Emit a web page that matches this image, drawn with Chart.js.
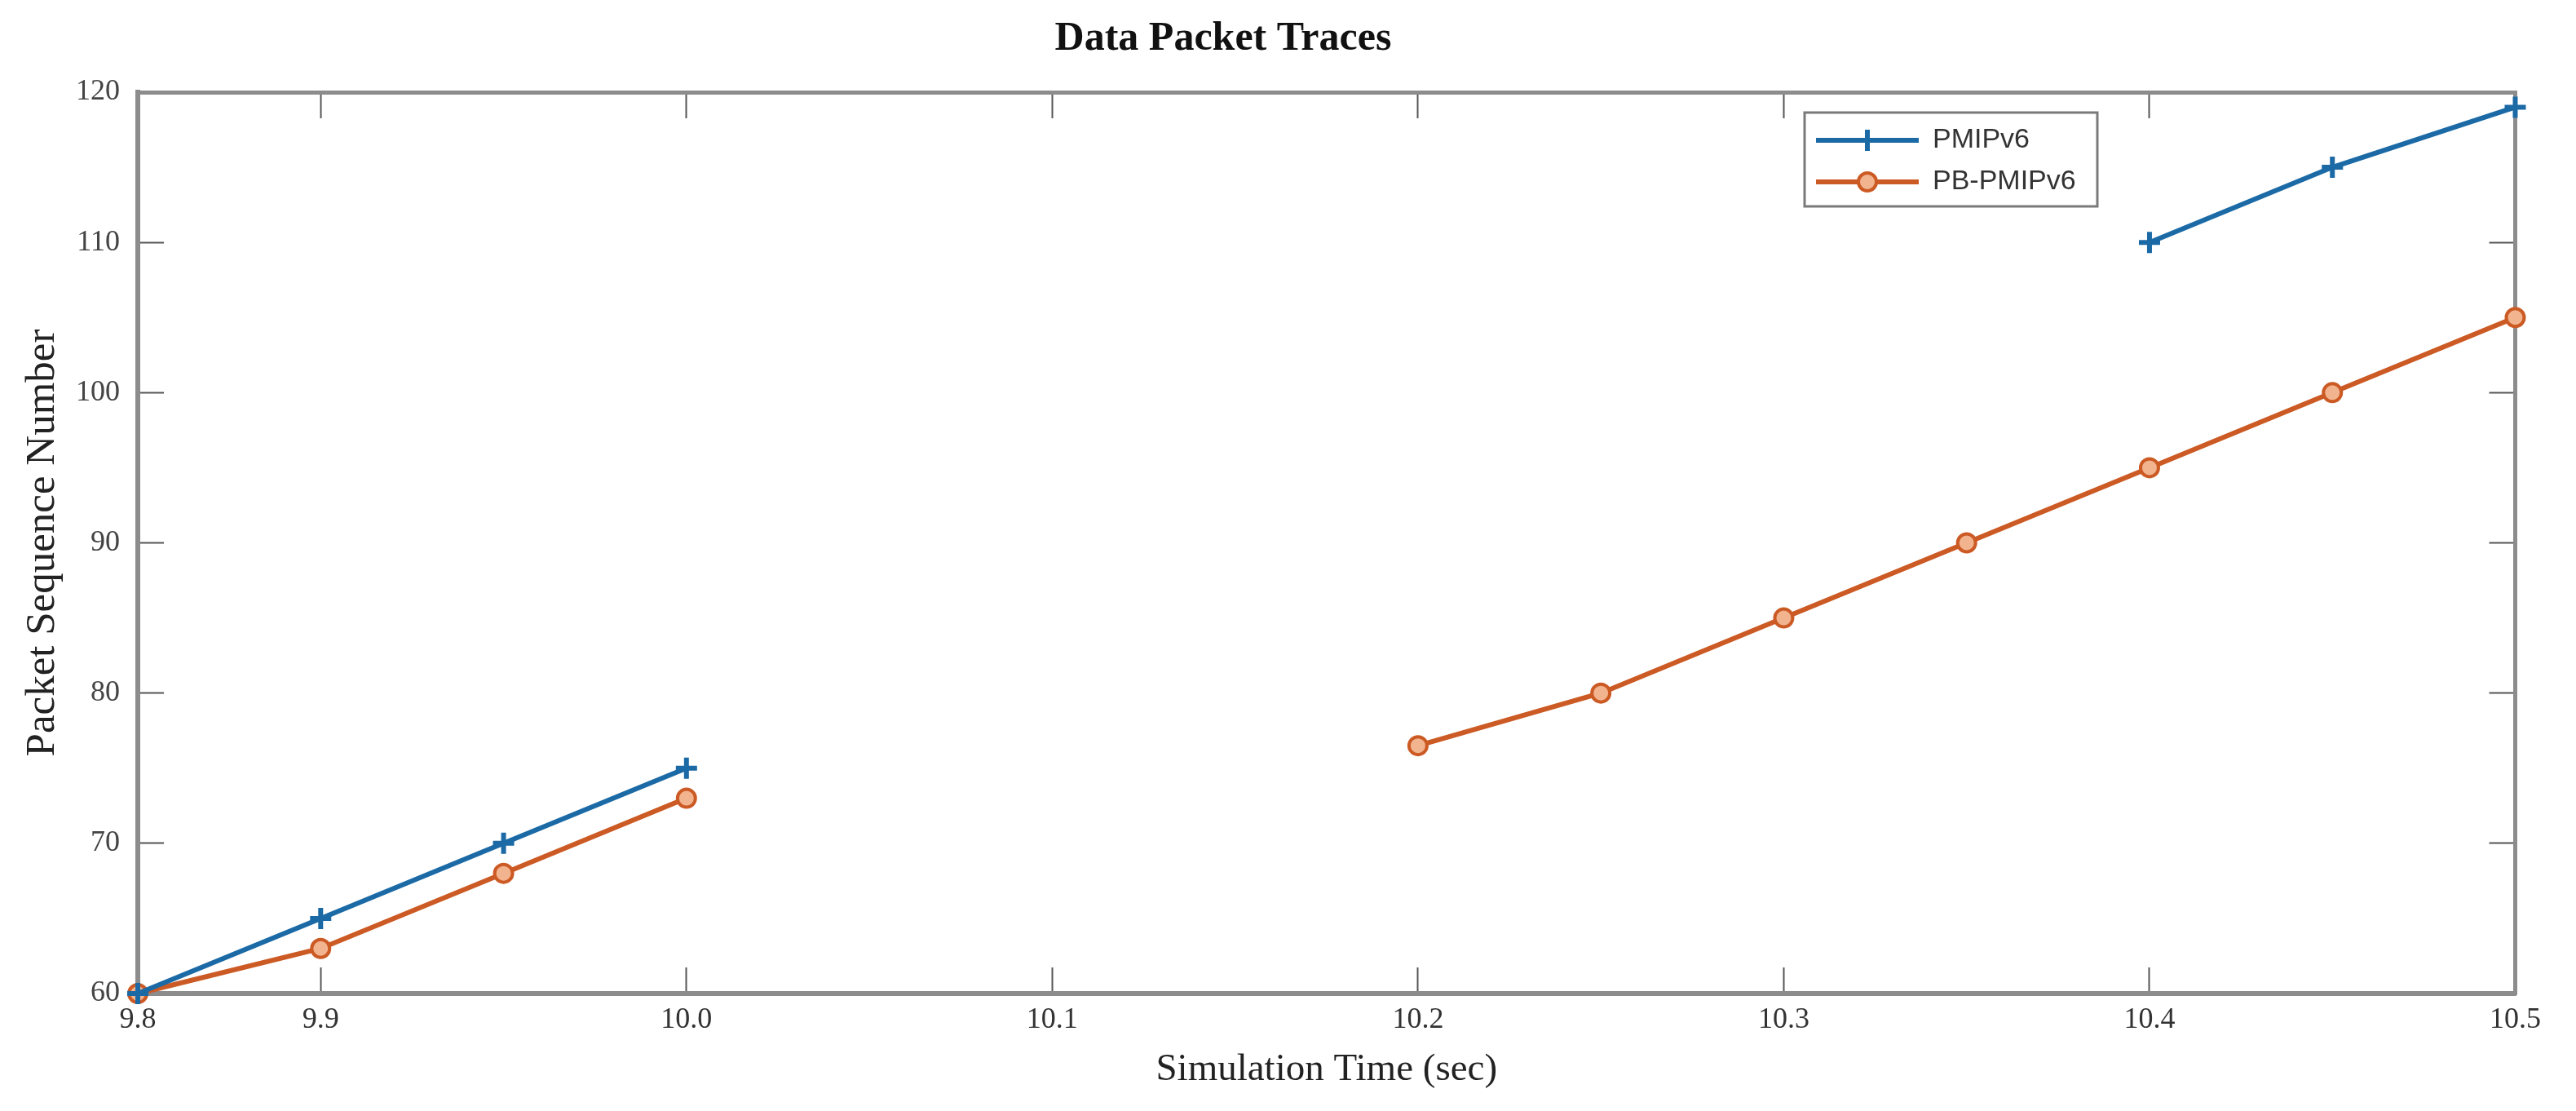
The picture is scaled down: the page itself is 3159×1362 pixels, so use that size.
<!DOCTYPE html>
<html>
<head>
<meta charset="utf-8">
<script src="https://cdn.jsdelivr.net/npm/chart.js@4.4.1/dist/chart.umd.min.js"></script>
<style>
  html, body { margin: 0; padding: 0; background: #ffffff; }
  #wrap { width: 3159px; height: 1362px; position: relative; }
</style>
</head>
<body>
<div id="wrap"><canvas id="c"></canvas></div>
<script>
// ---------------- data ----------------
const seriesNames = ['PMIPv6', 'PB-PMIPv6'];
const pmipTime = [9.85, 9.9, 9.95, 10.0, 10.2, 10.4, 10.45, 10.5];
const pmipSeq  = [60, 65, 70, 75, null, 110, 115, 119];
const pbTime   = [9.85, 9.9, 9.95, 10.0, 10.1, 10.2, 10.25, 10.3, 10.35, 10.4, 10.45, 10.5];
const pbSeq    = [60, 63, 68, 73, null, 76.5, 80, 85, 90, 95, 100, 105];
const xTickValues = [9.85, 9.9, 10.0, 10.1, 10.2, 10.3, 10.4, 10.5];
const xTickLabels = ['9.8', '9.9', '10.0', '10.1', '10.2', '10.3', '10.4', '10.5'];
const yTickValues = [60, 70, 80, 90, 100, 110, 120];
const titleText = 'Data Packet Traces';
const xTitleText = 'Simulation Time (sec)';
const yTitleText = 'Packet Sequence Number';

// ---------------- styles ----------------
const BLUE = '#1b6aa6';
const ORANGE = '#cc5a24';
const ORANGE_FILL = '#f2b48f';
const AXIS_GRAY = '#8c8c8c';
const TICK_GRAY = '#555555';
const SERIF = '"Liberation Serif", "Times New Roman", serif';
const SANS = '"Liberation Sans", Arial, sans-serif';

const LEGEND_POS = { left: 2210, top: 138, width: 362, height: 400 };
const LEGEND_FRAME = { x: 2213, y: 138, w: 359, h: 115 };
const TITLE_SPAN = { left: 0, right: 3000 };

function setXTicks(scale) { scale.ticks = xTickValues.map(v => ({ value: v })); }
function setYTicks(scale) { scale.ticks = yTickValues.map(v => ({ value: v })); }

const tickGrid = {
  display: true, drawOnChartArea: false, drawTicks: true,
  tickLength: -32, tickWidth: 2, tickColor: TICK_GRAY, color: TICK_GRAY
};

// legend icons: line with marker in the middle
function makeIcon(color, kind) {
  const cv = document.createElement('canvas');
  cv.width = 126; cv.height = 34;
  const g = cv.getContext('2d');
  g.strokeStyle = color; g.lineWidth = 6; g.lineCap = 'butt';
  g.beginPath(); g.moveTo(0, 17); g.lineTo(126, 17); g.stroke();
  if (kind === 'cross') {
    g.lineWidth = 6;
    g.beginPath(); g.moveTo(63, 4); g.lineTo(63, 30); g.moveTo(50, 17); g.lineTo(76, 17); g.stroke();
  } else {
    g.lineWidth = 4; g.fillStyle = ORANGE_FILL;
    g.beginPath(); g.arc(63, 17, 11, 0, Math.PI * 2); g.fill(); g.stroke();
  }
  return cv;
}
const legendIcons = [makeIcon(BLUE, 'cross'), makeIcon(ORANGE, 'circle')];

const legendPlacer = {
  id: 'legendPlacer',
  afterLayout(chart) {
    const lg = chart.legend;
    if (lg) {
      lg.left = LEGEND_POS.left; lg.top = LEGEND_POS.top;
      lg.width = LEGEND_POS.width; lg.height = LEGEND_POS.height;
      lg.right = lg.left + lg.width; lg.bottom = lg.top + lg.height;
    }
    const tb = chart.titleBlock;
    if (tb) {
      tb.left = TITLE_SPAN.left; tb.right = TITLE_SPAN.right;
      tb.width = tb.right - tb.left;
    }
  },
  afterDraw(chart) {
    const ctx = chart.ctx;
    ctx.save();
    ctx.strokeStyle = '#7a7a7a';
    ctx.lineWidth = 3;
    ctx.strokeRect(LEGEND_FRAME.x, LEGEND_FRAME.y, LEGEND_FRAME.w, LEGEND_FRAME.h);
    ctx.restore();
  }
};

const chart = new Chart(document.getElementById('c'), {
  type: 'line',
  data: {
    datasets: [
      {
        label: seriesNames[0],
        data: pmipTime.map((t, i) => ({ x: t, y: pmipSeq[i] })),
        borderColor: BLUE, backgroundColor: BLUE,
        borderWidth: 6, tension: 0, spanGaps: false, clip: false,
        pointStyle: 'cross', pointRadius: 13, pointBorderWidth: 6,
        pointBorderColor: BLUE, pointBackgroundColor: BLUE
      },
      {
        label: seriesNames[1],
        data: pbTime.map((t, i) => ({ x: t, y: pbSeq[i] })),
        borderColor: ORANGE, backgroundColor: ORANGE_FILL,
        borderWidth: 6, tension: 0, spanGaps: false, clip: false,
        pointStyle: 'circle', pointRadius: 11, pointBorderWidth: 4,
        pointBorderColor: ORANGE, pointBackgroundColor: ORANGE_FILL
      }
    ]
  },
  options: {
    responsive: true,
    maintainAspectRatio: false,
    animation: false,
    layout: { padding: 0 },
    plugins: {
      title: {
        display: true, text: titleText, color: '#111111',
        font: { family: SERIF, size: 50, weight: 'bold' },
        padding: { top: 18, bottom: 8 }
      },
      legend: {
        display: true, position: 'chartArea', align: 'start',
        labels: {
          usePointStyle: true, pointStyleWidth: 126, padding: 17,
          color: '#333333', font: { family: SANS, size: 34 },
          generateLabels(chart) {
            const items = Chart.defaults.plugins.legend.labels.generateLabels(chart);
            items.forEach((it, i) => { it.pointStyle = legendIcons[i]; });
            return items;
          }
        }
      },
      tooltip: { enabled: false }
    },
    scales: {
      x: {
        type: 'linear', position: 'bottom', min: 9.85, max: 10.5,
        afterBuildTicks: setXTicks,
        afterFit(s) { s.height = 144; },
        ticks: {
          autoSkip: false, maxRotation: 0, padding: 43, color: '#333333',
          font: { family: SERIF, size: 36 },
          callback: (v, i) => xTickLabels[i]
        },
        grid: tickGrid,
        border: { display: true, color: AXIS_GRAY, width: 6 },
        title: {
          display: true, text: xTitleText, color: '#222222',
          font: { family: SERIF, size: 47 }, padding: { top: 0, bottom: 22 }
        }
      },
      y: {
        type: 'linear', position: 'left', min: 60, max: 120,
        afterBuildTicks: setYTicks,
        afterFit(s) { s.width = 169; },
        ticks: { padding: 54, color: '#444444', font: { family: SERIF, size: 36 } },
        grid: tickGrid,
        border: { display: true, color: AXIS_GRAY, width: 6 },
        title: {
          display: true, text: yTitleText, color: '#222222',
          font: { family: SERIF, size: 51 }, padding: { top: 22, bottom: 0 }
        }
      },
      x2: {
        type: 'linear', position: 'top', min: 9.85, max: 10.5,
        afterBuildTicks: setXTicks,
        afterFit(s) { s.height = 27; },
        ticks: { display: false },
        grid: tickGrid,
        border: { display: true, color: AXIS_GRAY, width: 5 }
      },
      y2: {
        type: 'linear', position: 'right', min: 60, max: 120,
        afterBuildTicks: setYTicks,
        afterFit(s) { s.width = 58; },
        ticks: { display: false },
        grid: tickGrid,
        border: { display: true, color: AXIS_GRAY, width: 5 }
      }
    }
  },
  plugins: [legendPlacer]
});
</script>
</body>
</html>
